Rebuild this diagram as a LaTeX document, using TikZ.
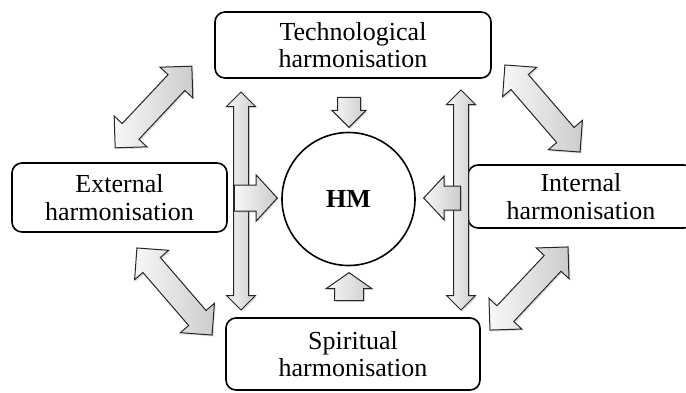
\documentclass[tikz,border=0pt]{standalone}
\usepackage{fontspec}
\setmainfont{Liberation Serif}
\usetikzlibrary{shapes.arrows,shadows}

\tikzset{
  hbox/.style={draw, line width=1.6pt, rounded corners=10pt, align=center,
    inner sep=0pt, font=\fontsize{26}{27.5}\selectfont},
  blockarr/.style={draw=black!85, line width=1pt, inner sep=0pt,
    left color=gray!6, right color=gray!40,
    drop shadow={opacity=0.25, shadow xshift=1.5pt, shadow yshift=-1.5pt}},
  dblarr/.style={blockarr, double arrow, inner xsep=0pt},
  sglarr/.style={blockarr, single arrow, inner xsep=0pt, anchor=tip},
}

\begin{document}
\begin{tikzpicture}[x=1pt,y=-1pt]
      \path[use as bounding box, clip] (0,0) rectangle (686,392);
      \node[hbox, minimum width=276pt, minimum height=66pt] (tech) at (353,45) {Technological\\harmonisation};
      \node[hbox, minimum width=215pt, minimum height=69pt] (ext) at (119.5,197.5) {External\\harmonisation};
      \node[hbox, minimum width=226pt, minimum height=63pt] (int) at (581,196.5) {Internal\\harmonisation};
      \node[hbox, minimum width=254pt, minimum height=72pt] (spir) at (353,354) {Spiritual\\harmonisation};
      \node[draw, circle, line width=1.6pt, minimum size=133pt,
        font=\fontsize{26}{27}\selectfont\bfseries] (hm) at (348.5,199) {HM};

      \node[dblarr, inner ysep=11pt, double arrow head extend=11pt, minimum height=112pt, rotate=46.8] (ul) at (153.5,107) {};
      \node[dblarr, inner ysep=11pt, double arrow head extend=11pt, minimum height=115pt, rotate=-49.2] (ur) at (542.5,108.5) {};
      \node[dblarr, inner ysep=11pt, double arrow head extend=11pt, minimum height=115pt, rotate=-49.2] (ll) at (174.5,291.5) {};
      \node[dblarr, inner ysep=11pt, double arrow head extend=11pt, minimum height=114pt, rotate=46.8] (lr) at (529,288.5) {};

      \node[dblarr, inner ysep=7pt, double arrow head extend=7pt, minimum height=218pt, rotate=90] (vl) at (241,201) {};
      \node[dblarr, inner ysep=7pt, double arrow head extend=7pt, minimum height=220pt, rotate=90] (vr) at (461,200) {};

      \node[sglarr, inner ysep=11pt, single arrow head extend=5.5pt, minimum height=30pt, rotate=-90] (atop) at (349,128) {};
      \node[sglarr, inner ysep=14pt, single arrow head extend=8.5pt, single arrow tip angle=110, minimum height=28pt, rotate=90] (abot) at (349,272) {};
      \node[sglarr, inner ysep=12.5pt, single arrow head extend=10pt, single arrow tip angle=95, minimum height=43pt] (aleft) at (278,198) {};
      \node[sglarr, inner ysep=11.5pt, single arrow head extend=10pt, single arrow tip angle=94, minimum height=37pt, rotate=180] (aright) at (423,198) {};
\end{tikzpicture}
\end{document}
